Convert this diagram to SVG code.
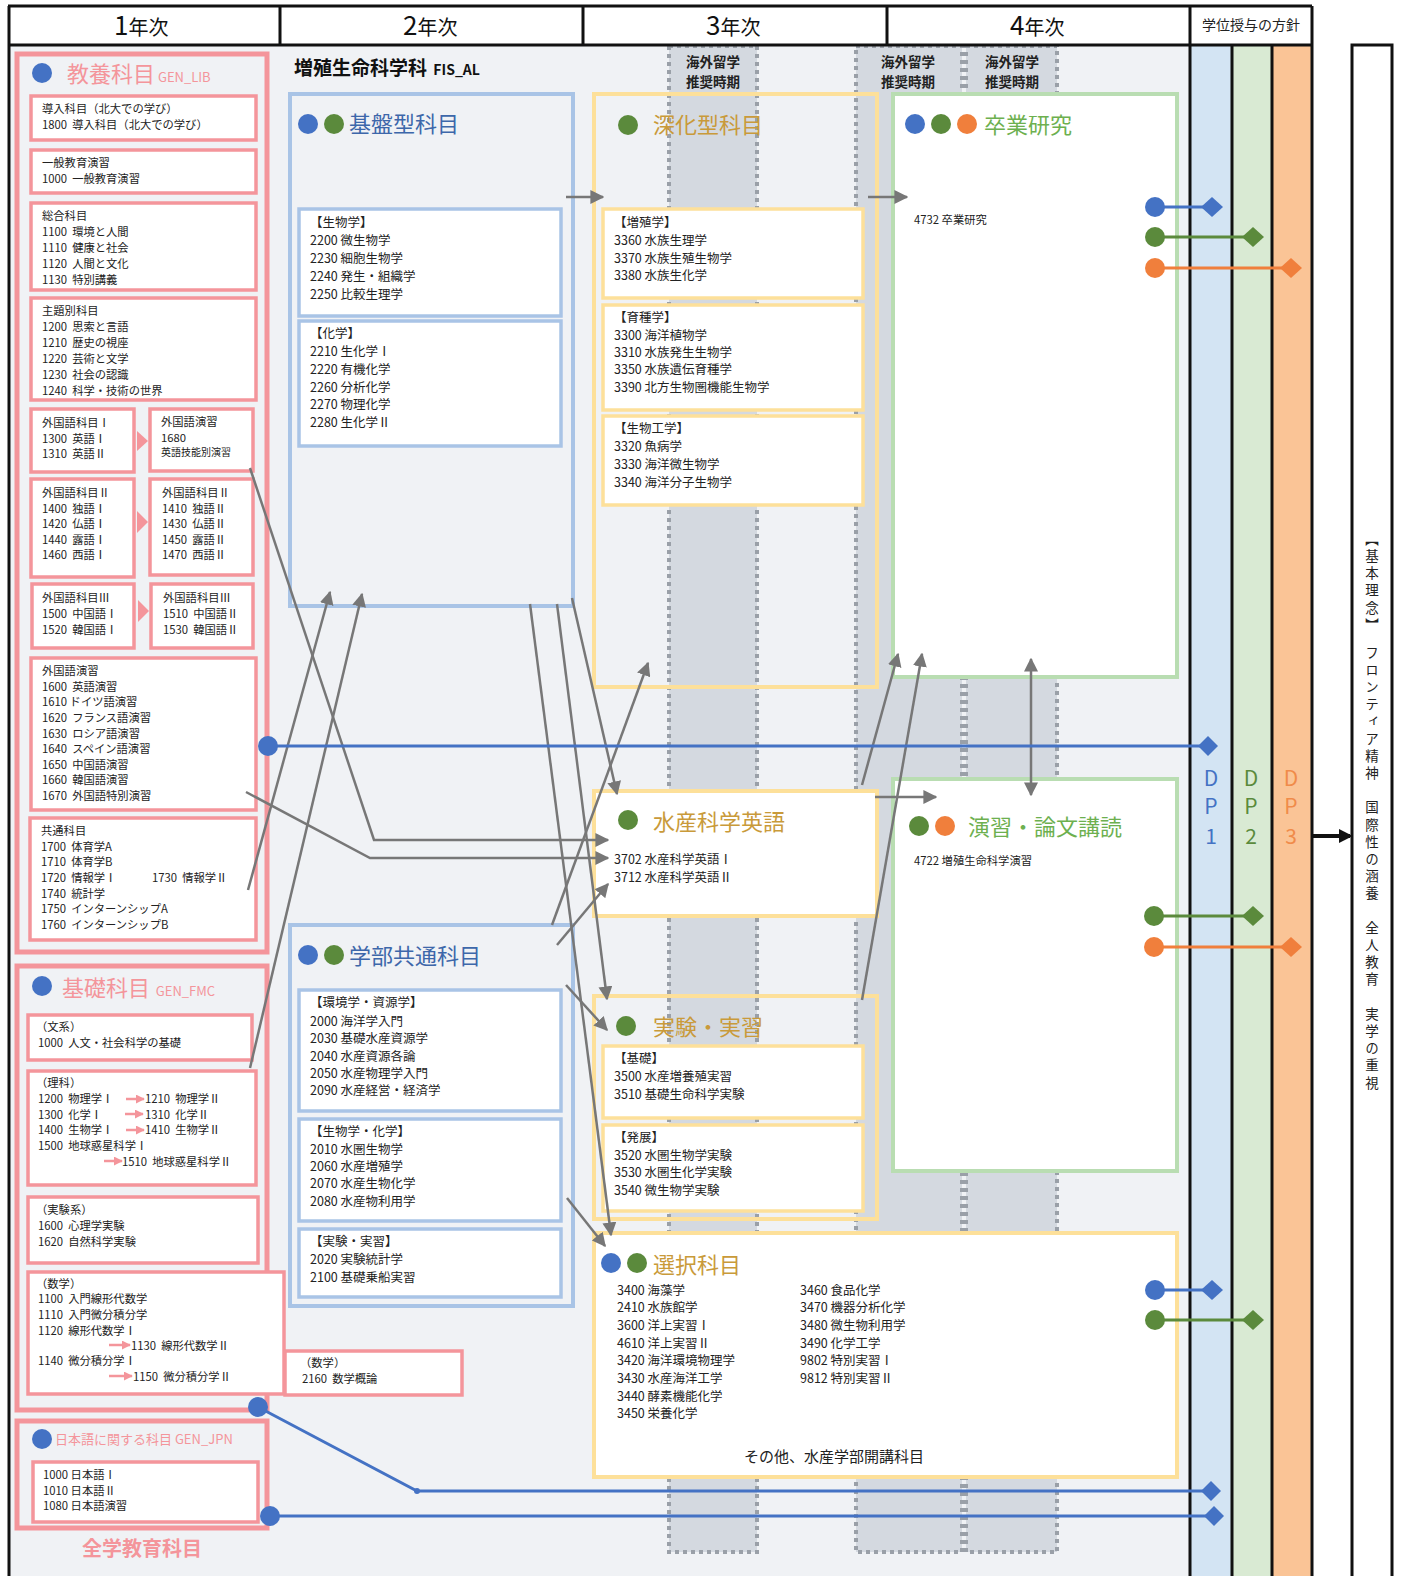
<svg xmlns="http://www.w3.org/2000/svg" width="1409" height="1576" viewBox="0 0 1409 1576">
<defs>
<style>
text{font-family:"Noto Sans CJK JP","Noto Sans",sans-serif;white-space:pre;fill:#222}
.t{font-size:11.3px}
.t2{font-size:12.5px}
.sm{font-size:10px}
.hd{font-size:20px;fill:#111}
.hn{font-size:26px;fill:#111}
.pkT{font-size:22px;fill:#f4959b}
.blT{font-size:22px;fill:#3d67aa}
.ylT{font-size:22px;fill:#c99a3a}
.grT{font-size:22px;fill:#6db04f}
.ov{font-size:13.5px;font-weight:bold;fill:#222;text-anchor:middle}
.pk{fill:none;stroke:#f4959b;stroke-width:5}
.pkw{fill:#fff;stroke:#f4959b;stroke-width:3.5}
.bl{fill:none;stroke:#a9c4e6;stroke-width:4}
.blw{fill:#fff;stroke:#a9c4e6;stroke-width:3.5}
.yl{fill:none;stroke:#fde09a;stroke-width:4}
.ylw{fill:#fff;stroke:#fde09a;stroke-width:3.5}
.grw{fill:#fff;stroke:#b9ddb2;stroke-width:4}
.dotc{fill:#d4d9e0;stroke:#9aa0a8;stroke-width:4;stroke-dasharray:4 4}
.cB{fill:#4472c4}.cG{fill:#5b8a3c}.cO{fill:#f07f3c}
.con{fill:none;stroke:#777;stroke-width:2.5;marker-end:url(#ah)}
.lB{stroke:#4472c4;stroke-width:3;fill:none}
.lG{stroke:#5b8a3c;stroke-width:3;fill:none}
.lO{stroke:#f07f3c;stroke-width:3;fill:none}
.pa{stroke:#f4959b;stroke-width:2.5;marker-end:url(#pah)}
.dp{font-size:21px;text-anchor:middle}
</style>
<marker id="ah" viewBox="0 0 10 10" refX="9" refY="5" markerWidth="14" markerHeight="14" markerUnits="userSpaceOnUse" orient="auto-start-reverse"><path d="M0,0 L10,5 L0,10 z" fill="#777"/></marker>
<marker id="pah" viewBox="0 0 10 10" refX="9" refY="5" markerWidth="9" markerHeight="9" markerUnits="userSpaceOnUse" orient="auto"><path d="M0,0 L10,5 L0,10 z" fill="#f4959b"/></marker>
<marker id="bah" viewBox="0 0 10 10" refX="8" refY="5" markerWidth="14" markerHeight="14" markerUnits="userSpaceOnUse" orient="auto"><path d="M0,0 L10,5 L0,10 z" fill="#111"/></marker>
</defs>
<rect width="1409" height="1576" fill="#fff"/>
<!-- background -->
<rect x="10" y="46" width="1180" height="1530" fill="#f0f2f5"/>
<rect x="1190" y="46" width="42" height="1530" fill="#d3e4f3"/>
<rect x="1232" y="46" width="40" height="1530" fill="#d9ead3"/>
<rect x="1272" y="46" width="40" height="1530" fill="#fac496"/>
<!-- overseas study columns -->
<g id="overseas">
<rect class="dotc" x="669" y="46" width="88" height="1506"/>
<rect class="dotc" x="856" y="46" width="106" height="1506"/>
<rect class="dotc" x="966" y="46" width="91" height="1506"/>
<text class="ov" x="713" y="67">海外留学</text><text class="ov" x="713" y="87">推奨時期</text>
<text class="ov" x="908" y="67">海外留学</text><text class="ov" x="908" y="87">推奨時期</text>
<text class="ov" x="1012" y="67">海外留学</text><text class="ov" x="1012" y="87">推奨時期</text>
</g>
<!-- header frame -->
<g id="header">
<path d="M8,6 H1312 M8,45 H1312 M9,6 V1576 M280,6 V45 M583,6 V45 M887,6 V45 M1190,6 V1576 M1232,45 V1576 M1272,45 V1576 M1312,6 V1576" stroke="#111" stroke-width="3" fill="none"/>
<text x="114" y="35"><tspan class="hn">1</tspan><tspan class="hd">年次</tspan></text>
<text x="403" y="35"><tspan class="hn">2</tspan><tspan class="hd">年次</tspan></text>
<text x="706" y="35"><tspan class="hn">3</tspan><tspan class="hd">年次</tspan></text>
<text x="1010" y="35"><tspan class="hn">4</tspan><tspan class="hd">年次</tspan></text>
<text x="1251" y="30" style="font-size:14px;text-anchor:middle">学位授与の方針</text>
</g>
<!-- right concept box -->
<g id="concept">
<rect x="1352" y="45" width="40" height="1535" fill="#fff" stroke="#111" stroke-width="3"/>
<text x="1372" y="532" style="font-size:13.5px;writing-mode:vertical-rl;letter-spacing:3.7px">【基本理念】　フロンティア精神　国際性の涵養　全人教育　実学の重視</text>
</g>
<!-- DP labels -->
<g id="dp-labels">
<text class="dp" x="1211" y="786" style="fill:#4472c4">D</text><text class="dp" x="1211" y="814" style="fill:#4472c4">P</text><text class="dp" x="1211" y="844" style="fill:#4472c4">1</text>
<text class="dp" x="1251" y="786" style="fill:#5b8a3c">D</text><text class="dp" x="1251" y="814" style="fill:#5b8a3c">P</text><text class="dp" x="1251" y="844" style="fill:#5b8a3c">2</text>
<text class="dp" x="1291" y="786" style="fill:#f08b4a">D</text><text class="dp" x="1291" y="814" style="fill:#f08b4a">P</text><text class="dp" x="1291" y="844" style="fill:#f08b4a">3</text>
</g>

<!-- 教養科目 -->
<g id="gen-lib">
<rect class="pk" x="17" y="54" width="250" height="898"/>
<circle class="cB" cx="42" cy="73" r="10"/>
<text x="67" y="82"><tspan class="pkT">教養科目</tspan><tspan style="font-size:13px;fill:#f4959b"> GEN_LIB</tspan></text>
<rect class="pkw" x="31" y="96" width="225" height="44"/>
<text class="t" x="42" y="113">導入科目（北大での学び）</text><text class="t" x="42" y="129">1800  導入科目（北大での学び）</text>
<rect class="pkw" x="31" y="150" width="225" height="43"/>
<text class="t" x="42" y="167">一般教育演習</text><text class="t" x="42" y="183">1000  一般教育演習</text>
<rect class="pkw" x="31" y="203" width="225" height="87"/>
<text class="t" x="42" y="220">総合科目</text><text class="t" x="42" y="236">1100  環境と人間</text><text class="t" x="42" y="252">1110  健康と社会</text><text class="t" x="42" y="268">1120  人間と文化</text><text class="t" x="42" y="284">1130  特別講義</text>
<rect class="pkw" x="31" y="298" width="225" height="102"/>
<text class="t" x="42" y="315">主題別科目</text><text class="t" x="42" y="331">1200  思索と言語</text><text class="t" x="42" y="347">1210  歴史の視座</text><text class="t" x="42" y="363">1220  芸術と文学</text><text class="t" x="42" y="379">1230  社会の認識</text><text class="t" x="42" y="395">1240  科学・技術の世界</text>
<rect class="pkw" x="31" y="409" width="103" height="63"/>
<text class="t" x="42" y="427">外国語科目Ⅰ</text><text class="t" x="42" y="443">1300  英語Ⅰ</text><text class="t" x="42" y="458">1310  英語Ⅱ</text>
<polygon points="137,431 148,441 137,451" fill="#f4959b"/>
<rect class="pkw" x="150" y="409" width="103" height="62"/>
<text class="t" x="161" y="426">外国語演習</text><text class="t" x="161" y="442">1680</text><text class="sm" x="161" y="456">英語技能別演習</text>
<rect class="pkw" x="31" y="479" width="103" height="98"/>
<text class="t" x="42" y="497">外国語科目Ⅱ</text><text class="t" x="42" y="513">1400  独語Ⅰ</text><text class="t" x="42" y="528">1420  仏語Ⅰ</text><text class="t" x="42" y="544">1440  露語Ⅰ</text><text class="t" x="42" y="559">1460  西語Ⅰ</text>
<polygon points="137,511 148,522 137,533" fill="#f4959b"/>
<rect class="pkw" x="150" y="479" width="103" height="96"/>
<text class="t" x="162" y="497">外国語科目Ⅱ</text><text class="t" x="162" y="513">1410  独語Ⅱ</text><text class="t" x="162" y="528">1430  仏語Ⅱ</text><text class="t" x="162" y="544">1450  露語Ⅱ</text><text class="t" x="162" y="559">1470  西語Ⅱ</text>
<rect class="pkw" x="32" y="584" width="102" height="64"/>
<text class="t" x="42" y="602">外国語科目Ⅲ</text><text class="t" x="42" y="618">1500  中国語Ⅰ</text><text class="t" x="42" y="634">1520  韓国語Ⅰ</text>
<polygon points="138,600 149,611 138,622" fill="#f4959b"/>
<rect class="pkw" x="151" y="584" width="102" height="64"/>
<text class="t" x="163" y="602">外国語科目Ⅲ</text><text class="t" x="163" y="618">1510  中国語Ⅱ</text><text class="t" x="163" y="634">1530  韓国語Ⅱ</text>
<rect class="pkw" x="31" y="658" width="225" height="152"/>
<text class="t" x="42" y="675">外国語演習</text><text class="t" x="42" y="691">1600  英語演習</text><text class="t" x="42" y="706">1610 ドイツ語演習</text><text class="t" x="42" y="722">1620  フランス語演習</text><text class="t" x="42" y="738">1630  ロシア語演習</text><text class="t" x="42" y="753">1640  スペイン語演習</text><text class="t" x="42" y="769">1650  中国語演習</text><text class="t" x="42" y="784">1660  韓国語演習</text><text class="t" x="42" y="800">1670  外国語特別演習</text>
<rect class="pkw" x="30" y="818" width="226" height="122"/>
<text class="t" x="41" y="835">共通科目</text><text class="t" x="41" y="851">1700  体育学A</text><text class="t" x="41" y="866">1710  体育学B</text><text class="t" x="41" y="882">1720  情報学Ⅰ</text><text class="t" x="152" y="882">1730  情報学Ⅱ</text><text class="t" x="41" y="898">1740  統計学</text><text class="t" x="41" y="913">1750  インターンシップA</text><text class="t" x="41" y="929">1760  インターンシップB</text>
</g>

<!-- 基礎科目 -->
<g id="gen-fmc">
<rect class="pk" x="17" y="966" width="250" height="444"/>
<circle class="cB" cx="42" cy="986" r="10"/>
<text x="62" y="996"><tspan class="pkT">基礎科目</tspan><tspan style="font-size:13px;fill:#f4959b">  GEN_FMC</tspan></text>
<rect class="pkw" x="28" y="1015" width="224" height="45"/>
<text class="t" x="36" y="1031">（文系）</text><text class="t" x="38" y="1047">1000  人文・社会科学の基礎</text>
<rect class="pkw" x="28" y="1071" width="228" height="114"/>
<text class="t" x="36" y="1087">（理科）</text>
<text class="t" x="38" y="1103">1200  物理学Ⅰ</text><line class="pa" x1="126" y1="1099" x2="144" y2="1099"/><text class="t" x="145" y="1103">1210  物理学Ⅱ</text>
<text class="t" x="38" y="1119">1300  化学Ⅰ</text><line class="pa" x1="125" y1="1114" x2="143" y2="1114"/><text class="t" x="145" y="1119">1310  化学Ⅱ</text>
<text class="t" x="38" y="1134">1400  生物学Ⅰ</text><line class="pa" x1="126" y1="1130" x2="144" y2="1130"/><text class="t" x="145" y="1134">1410  生物学Ⅱ</text>
<text class="t" x="38" y="1150">1500  地球惑星科学Ⅰ</text>
<line class="pa" x1="104" y1="1161" x2="122" y2="1161"/><text class="t" x="122" y="1166">1510  地球惑星科学Ⅱ</text>
<rect class="pkw" x="28" y="1197" width="230" height="66"/>
<text class="t" x="36" y="1214">（実験系）</text><text class="t" x="38" y="1230">1600  心理学実験</text><text class="t" x="38" y="1246">1620  自然科学実験</text>
<rect class="pkw" x="28" y="1272" width="256" height="122"/>
<text class="t" x="36" y="1288">（数学）</text><text class="t" x="38" y="1303">1100  入門線形代数学</text><text class="t" x="38" y="1319">1110  入門微分積分学</text><text class="t" x="38" y="1335">1120  線形代数学Ⅰ</text>
<line class="pa" x1="109" y1="1345" x2="130" y2="1345"/><text class="t" x="131" y="1350">1130  線形代数学Ⅱ</text>
<text class="t" x="38" y="1365">1140  微分積分学Ⅰ</text>
<line class="pa" x1="109" y1="1376" x2="132" y2="1376"/><text class="t" x="133" y="1381">1150  微分積分学Ⅱ</text>
</g>
<g id="math-2160">
<rect class="pkw" x="285" y="1351" width="177" height="44"/>
<text class="t" x="300" y="1367">（数学）</text><text class="t" x="302" y="1383">2160  数学概論</text>
</g>

<!-- 日本語 -->
<g id="gen-jpn">
<rect class="pk" x="17" y="1421" width="250" height="107"/>
<circle class="cB" cx="42" cy="1439" r="10"/>
<text x="55" y="1444" style="font-size:13px;fill:#f4959b">日本語に関する科目 GEN_JPN</text>
<rect class="pkw" x="33" y="1462" width="225" height="60"/>
<text class="t" x="43" y="1479">1000 日本語Ⅰ</text><text class="t" x="43" y="1495">1010 日本語Ⅱ</text><text class="t" x="43" y="1510">1080 日本語演習</text>
</g>
<text x="142" y="1556" style="font-size:20px;font-weight:bold;fill:#f4959b;text-anchor:middle">全学教育科目</text>

<!-- 2nd column -->
<text x="294" y="75" style="font-size:19px;font-weight:bold;fill:#111">増殖生命科学科<tspan style="font-size:14px">  FIS_AL</tspan></text>
<g id="kiban">
<rect class="bl" x="290" y="94" width="283" height="512"/>
<circle class="cB" cx="308" cy="124" r="10"/><circle class="cG" cx="334" cy="124" r="10"/>
<text class="blT" x="349" y="132">基盤型科目</text>
<rect class="blw" x="299" y="209" width="262" height="107"/>
<text class="t2" x="310" y="227">【生物学】</text><text class="t2" x="310" y="245">2200 微生物学</text><text class="t2" x="310" y="263">2230 細胞生物学</text><text class="t2" x="310" y="281">2240 発生・組織学</text><text class="t2" x="310" y="299">2250 比較生理学</text>
<rect class="blw" x="299" y="321" width="262" height="125"/>
<text class="t2" x="310" y="338">【化学】</text><text class="t2" x="310" y="356">2210 生化学Ⅰ</text><text class="t2" x="310" y="374">2220 有機化学</text><text class="t2" x="310" y="392">2260 分析化学</text><text class="t2" x="310" y="409">2270 物理化学</text><text class="t2" x="310" y="427">2280 生化学Ⅱ</text>
</g>
<g id="gakubu">
<rect class="bl" x="290" y="925" width="283" height="381"/>
<circle class="cB" cx="308" cy="955" r="10"/><circle class="cG" cx="334" cy="955" r="10"/>
<text class="blT" x="349" y="964">学部共通科目</text>
<rect class="blw" x="299" y="990" width="262" height="121"/>
<text class="t2" x="310" y="1007">【環境学・資源学】</text><text class="t2" x="310" y="1026">2000 海洋学入門</text><text class="t2" x="310" y="1043">2030 基礎水産資源学</text><text class="t2" x="310" y="1061">2040 水産資源各論</text><text class="t2" x="310" y="1078">2050 水産物理学入門</text><text class="t2" x="310" y="1095">2090 水産経営・経済学</text>
<rect class="blw" x="299" y="1119" width="262" height="102"/>
<text class="t2" x="310" y="1136">【生物学・化学】</text><text class="t2" x="310" y="1154">2010 水圏生物学</text><text class="t2" x="310" y="1171">2060 水産増殖学</text><text class="t2" x="310" y="1188">2070 水産生物化学</text><text class="t2" x="310" y="1206">2080 水産物利用学</text>
<rect class="blw" x="299" y="1229" width="262" height="68"/>
<text class="t2" x="310" y="1246">【実験・実習】</text><text class="t2" x="310" y="1264">2020 実験統計学</text><text class="t2" x="310" y="1282">2100 基礎乗船実習</text>
</g>

<!-- 3rd column -->
<g id="shinka">
<rect class="yl" x="594" y="94" width="283" height="593"/>
<circle class="cG" cx="628" cy="125" r="10"/>
<text class="ylT" x="653" y="133">深化型科目</text>
<rect class="ylw" x="603" y="209" width="260" height="89"/>
<text class="t2" x="614" y="227">【増殖学】</text><text class="t2" x="614" y="245">3360 水族生理学</text><text class="t2" x="614" y="263">3370 水族生殖生物学</text><text class="t2" x="614" y="280">3380 水族生化学</text>
<rect class="ylw" x="603" y="305" width="260" height="105"/>
<text class="t2" x="614" y="322">【育種学】</text><text class="t2" x="614" y="340">3300 海洋植物学</text><text class="t2" x="614" y="357">3310 水族発生生物学</text><text class="t2" x="614" y="374">3350 水族遺伝育種学</text><text class="t2" x="614" y="392">3390 北方生物圏機能生物学</text>
<rect class="ylw" x="603" y="416" width="260" height="89"/>
<text class="t2" x="614" y="433">【生物工学】</text><text class="t2" x="614" y="451">3320 魚病学</text><text class="t2" x="614" y="469">3330 海洋微生物学</text><text class="t2" x="614" y="487">3340 海洋分子生物学</text>
</g>
<g id="eigo">
<rect class="ylw" x="594" y="791" width="283" height="125" style="stroke-width:4"/>
<circle class="cG" cx="628" cy="820" r="10"/>
<text class="ylT" x="653" y="830">水産科学英語</text>
<text class="t2" x="614" y="864">3702 水産科学英語Ⅰ</text><text class="t2" x="614" y="882">3712 水産科学英語Ⅱ</text>
</g>
<g id="jikken">
<rect class="yl" x="594" y="996" width="283" height="223"/>
<circle class="cG" cx="626" cy="1026" r="10"/>
<text class="ylT" x="653" y="1035">実験・実習</text>
<rect class="ylw" x="603" y="1046" width="260" height="72"/>
<text class="t2" x="614" y="1063">【基礎】</text><text class="t2" x="614" y="1081">3500 水産増養殖実習</text><text class="t2" x="614" y="1099">3510 基礎生命科学実験</text>
<rect class="ylw" x="603" y="1125" width="260" height="86"/>
<text class="t2" x="614" y="1142">【発展】</text><text class="t2" x="614" y="1160">3520 水圏生物学実験</text><text class="t2" x="614" y="1177">3530 水圏生化学実験</text><text class="t2" x="614" y="1195">3540 微生物学実験</text>
</g>
<g id="sentaku">
<rect class="ylw" x="594" y="1233" width="583" height="244" style="stroke-width:4"/>
<circle class="cB" cx="611" cy="1263" r="10"/><circle class="cG" cx="637" cy="1263" r="10"/>
<text class="ylT" x="653" y="1273">選択科目</text>
<text class="t2" x="617" y="1295">3400 海藻学</text><text class="t2" x="617" y="1312">2410 水族館学</text><text class="t2" x="617" y="1330">3600 洋上実習Ⅰ</text><text class="t2" x="617" y="1348">4610 洋上実習Ⅱ</text><text class="t2" x="617" y="1365">3420 海洋環境物理学</text><text class="t2" x="617" y="1383">3430 水産海洋工学</text><text class="t2" x="617" y="1401">3440 酵素機能化学</text><text class="t2" x="617" y="1418">3450 栄養化学</text>
<text class="t2" x="800" y="1295">3460 食品化学</text><text class="t2" x="800" y="1312">3470 機器分析化学</text><text class="t2" x="800" y="1330">3480 微生物利用学</text><text class="t2" x="800" y="1348">3490 化学工学</text><text class="t2" x="800" y="1365">9802 特別実習Ⅰ</text><text class="t2" x="800" y="1383">9812 特別実習Ⅱ</text>
<text x="834" y="1462" style="font-size:15px;text-anchor:middle">その他、水産学部開講科目</text>
</g>

<!-- 4th column -->
<g id="sotsuken">
<rect class="grw" x="893" y="94" width="284" height="583"/>
<circle class="cB" cx="915" cy="124" r="10"/><circle class="cG" cx="941" cy="124" r="10"/><circle class="cO" cx="967" cy="124" r="10"/>
<text class="grT" x="984" y="133">卒業研究</text>
<text class="t" x="914" y="224">4732 卒業研究</text>
</g>
<g id="enshu">
<rect class="grw" x="893" y="779" width="284" height="392"/>
<circle class="cG" cx="919" cy="826" r="10"/><circle class="cO" cx="945" cy="826" r="10"/>
<text class="grT" x="968" y="835">演習・論文講読</text>
<text class="t" x="914" y="865">4722 増殖生命科学演習</text>
</g>

<!-- connectors -->
<g id="connectors">
<line class="con" x1="566" y1="197" x2="603" y2="197"/>
<line class="con" x1="868" y1="197" x2="907" y2="197"/>
<line class="con" x1="875" y1="797" x2="936" y2="797"/>
<line class="con" x1="1031" y1="659" x2="1031" y2="795" style="marker-start:url(#ah)"/>
<polyline class="con" points="250,468 374,840 608,840"/>
<polyline class="con" points="246,792 370,858 608,858"/>
<line class="con" x1="248" y1="890" x2="330" y2="592"/>
<line class="con" x1="250" y1="1068" x2="362" y2="594"/>
<line class="con" x1="572" y1="598" x2="617" y2="794"/>
<line class="con" x1="557" y1="604" x2="607" y2="999"/>
<line class="con" x1="530" y1="604" x2="611" y2="1235"/>
<line class="con" x1="552" y1="925" x2="648" y2="663"/>
<line class="con" x1="557" y1="945" x2="608" y2="884"/>
<line class="con" x1="566" y1="985" x2="607" y2="1030"/>
<line class="con" x1="567" y1="1198" x2="605" y2="1246"/>
<line class="con" x1="862" y1="785" x2="898" y2="654"/>
<line class="con" x1="862" y1="1000" x2="922" y2="654"/>
<line x1="1313" y1="836" x2="1350" y2="836" stroke="#111" stroke-width="4" marker-end="url(#bah)"/>
</g>
<!-- DP connectors -->
<g id="dp-links">
<line class="lB" x1="268" y1="746" x2="1205" y2="746"/><circle class="cB" cx="268" cy="746" r="10"/><polygon class="cB" points="1198,746 1208,736 1218,746 1208,756"/>
<polyline class="lB" points="258,1407 417,1491 1207,1491"/><circle class="cB" cx="258" cy="1407" r="10"/><circle class="cB" cx="417" cy="1491" r="3"/><polygon class="cB" points="1201,1491 1211,1481 1221,1491 1211,1501"/>
<line class="lB" x1="270" y1="1516" x2="1207" y2="1516"/><circle class="cB" cx="270" cy="1516" r="10"/><polygon class="cB" points="1204,1516 1214,1506 1224,1516 1214,1526"/>
<line class="lB" x1="1155" y1="207" x2="1205" y2="207"/><circle class="cB" cx="1155" cy="207" r="10"/><polygon class="cB" points="1201,207 1212,197 1223,207 1212,217"/>
<line class="lG" x1="1155" y1="237" x2="1245" y2="237"/><circle class="cG" cx="1155" cy="237" r="10"/><polygon class="cG" points="1242,237 1253,227 1264,237 1253,247"/>
<line class="lO" x1="1155" y1="268" x2="1284" y2="268"/><circle class="cO" cx="1155" cy="268" r="10"/><polygon class="cO" points="1280,268 1291,258 1302,268 1291,278"/>
<line class="lG" x1="1154" y1="916" x2="1245" y2="916"/><circle class="cG" cx="1154" cy="916" r="10"/><polygon class="cG" points="1242,916 1253,906 1264,916 1253,926"/>
<line class="lO" x1="1154" y1="947" x2="1284" y2="947"/><circle class="cO" cx="1154" cy="947" r="10"/><polygon class="cO" points="1280,947 1291,937 1302,947 1291,957"/>
<line class="lB" x1="1155" y1="1290" x2="1205" y2="1290"/><circle class="cB" cx="1155" cy="1290" r="10"/><polygon class="cB" points="1201,1290 1212,1280 1223,1290 1212,1300"/>
<line class="lG" x1="1155" y1="1320" x2="1245" y2="1320"/><circle class="cG" cx="1155" cy="1320" r="10"/><polygon class="cG" points="1242,1320 1253,1310 1264,1320 1253,1330"/>
</g>
</svg>
